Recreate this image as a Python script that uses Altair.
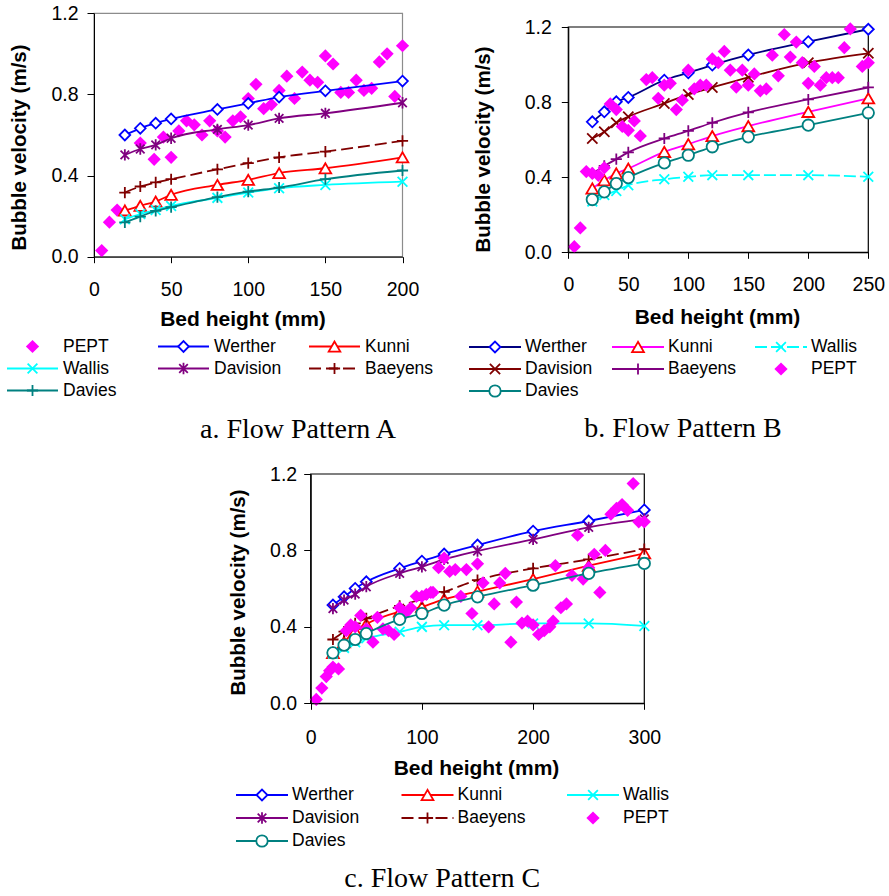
import altair as alt
import pandas as pd

SANS = "Liberation Sans"
SERIF = "Liberation Serif"

# ---------------- Panel A : Flow Pattern A ----------------
A_MODEL_X = [20, 30, 40, 50, 80, 100, 120, 150, 200]
A_WERTHER = [0.600, 0.633, 0.658, 0.679, 0.726, 0.756, 0.787, 0.818, 0.866]
A_KUNNI = [0.228, 0.251, 0.272, 0.305, 0.354, 0.379, 0.412, 0.436, 0.490]
A_WALLIS = [0.185, 0.210, 0.230, 0.250, 0.290, 0.316, 0.338, 0.354, 0.370]
A_DAVISION = [0.502, 0.531, 0.551, 0.584, 0.628, 0.649, 0.682, 0.707, 0.759]
A_BAEYENS = [0.316, 0.346, 0.366, 0.382, 0.431, 0.461, 0.490, 0.518, 0.571]
A_DAVIES = [0.169, 0.198, 0.226, 0.244, 0.294, 0.321, 0.341, 0.382, 0.425]
A_PEPT_X = [5, 10, 15, 30, 39, 45, 50, 55, 60, 65, 70, 75, 80, 85, 90, 95, 100,
            105, 110, 115, 120, 125, 130, 135, 140, 145, 150, 155, 160, 165,
            170, 175, 180, 185, 190, 195, 200]
A_PEPT_Y = [0.03, 0.17, 0.23, 0.56, 0.48, 0.59, 0.49, 0.62, 0.67, 0.65, 0.60,
            0.67, 0.62, 0.59, 0.67, 0.69, 0.78, 0.85, 0.73, 0.75, 0.82, 0.89,
            0.78, 0.91, 0.87, 0.86, 0.99, 0.95, 0.81, 0.81, 0.87, 0.82, 0.83,
            0.96, 1.00, 0.79, 1.04]

# ---------------- Panel B : Flow Pattern B ----------------
B_MODEL_X = [20, 30, 40, 50, 80, 100, 120, 150, 200, 250]
B_WERTHER = [0.695, 0.748, 0.802, 0.825, 0.917, 0.956, 0.997, 1.051, 1.122, 1.188]
B_KUNNI = [0.340, 0.384, 0.420, 0.446, 0.535, 0.576, 0.619, 0.672, 0.748, 0.820]
B_WALLIS = [0.270, 0.305, 0.327, 0.357, 0.389, 0.402, 0.411, 0.411, 0.411, 0.402]
B_DAVISION = [0.606, 0.642, 0.690, 0.722, 0.793, 0.841, 0.878, 0.932, 1.010, 1.060]
B_BAEYENS = [0.420, 0.460, 0.496, 0.532, 0.606, 0.647, 0.690, 0.745, 0.814, 0.878]
B_DAVIES = [0.281, 0.322, 0.366, 0.398, 0.476, 0.517, 0.562, 0.615, 0.677, 0.743]
B_PEPT_X = [5, 10, 15, 20, 25, 30, 35, 40, 45, 50, 55, 60, 65, 70, 75, 80, 85,
            90, 95, 100, 105, 110, 115, 120, 125, 130, 135, 140, 145, 150, 155,
            160, 165, 170, 175, 180, 185, 190, 195, 200, 205, 210, 215, 220,
            225, 230, 235, 245, 250]
B_PEPT_Y = [0.03, 0.13, 0.43, 0.42, 0.41, 0.45, 0.79, 0.76, 0.67, 0.65, 0.70,
            0.62, 0.92, 0.93, 0.82, 0.89, 0.90, 0.76, 0.81, 0.97, 0.87, 0.89,
            0.89, 1.03, 1.01, 1.07, 0.97, 0.88, 0.97, 0.89, 0.95, 0.86, 0.87,
            1.05, 0.94, 1.16, 1.04, 1.12, 1.01, 0.90, 0.99, 0.89, 0.93, 0.93,
            0.93, 1.09, 1.19, 0.99, 1.01]

# ---------------- Panel C : Flow Pattern C ----------------
C_MODEL_X = [20, 30, 40, 50, 80, 100, 120, 150, 200, 250, 300]
C_WERTHER = [0.514, 0.557, 0.601, 0.636, 0.706, 0.744, 0.781, 0.828, 0.901, 0.954, 1.012]
C_KUNNI = [0.264, 0.320, 0.380, 0.415, 0.480, 0.505, 0.545, 0.585, 0.650, 0.720, 0.785]
C_WALLIS = [0.260, 0.290, 0.320, 0.340, 0.374, 0.400, 0.409, 0.409, 0.418, 0.418, 0.405]
C_DAVISION = [0.496, 0.540, 0.571, 0.610, 0.680, 0.714, 0.753, 0.797, 0.858, 0.921, 0.965]
C_BAEYENS = [0.334, 0.375, 0.418, 0.444, 0.510, 0.545, 0.583, 0.645, 0.706, 0.753, 0.807]
C_DAVIES = [0.264, 0.304, 0.334, 0.365, 0.439, 0.470, 0.514, 0.557, 0.618, 0.680, 0.732]
C_PEPT_X = [5, 10, 14, 17, 20, 25, 32, 36, 40, 45, 50, 56, 60, 65, 70, 75, 80,
            85, 90, 95, 100, 104, 108, 110, 115, 120, 125, 130, 135, 140, 145,
            150, 155, 160, 165, 170, 175, 180, 185, 190, 195, 200, 205, 210,
            215, 218, 220, 225, 230, 235, 240, 245, 250, 255, 260, 265, 270,
            275, 280, 285, 290, 295, 300]
C_PEPT_Y = [0.02, 0.08, 0.14, 0.17, 0.19, 0.18, 0.38, 0.41, 0.40, 0.46, 0.39,
            0.32, 0.45, 0.39, 0.38, 0.36, 0.50, 0.47, 0.50, 0.56, 0.56, 0.57,
            0.58, 0.58, 0.71, 0.76, 0.69, 0.70, 0.56, 0.70, 0.47, 0.73, 0.63,
            0.40, 0.52, 0.63, 0.68, 0.32, 0.53, 0.42, 0.43, 0.41, 0.36, 0.38,
            0.40, 0.43, 0.72, 0.50, 0.52, 0.67, 0.88, 0.65, 0.71, 0.78, 0.58,
            0.80, 0.99, 1.02, 1.04, 1.01, 1.15, 0.95, 0.95]

Y_TICKS = [0.0, 0.4, 0.8, 1.2]
A_X_TICKS = [0, 50, 100, 150, 200]
B_X_TICKS = [0, 50, 100, 150, 200, 250]
C_X_TICKS = [0, 100, 200, 300]

# ---------------- marker shapes / styles ----------------
PLUS = "M-1,0L1,0M0,-1L0,1"
XMARK = "M-1,-1L1,1M-1,1L1,-1"
STAR = "M-0.8,-0.8L0.8,0.8M-0.8,0.8L0.8,-0.8M0,-1.05L0,1.05"

PEPT_STYLE = dict(line=None, mcolor="#FF00FF", shape="diamond", size=175, solid=True)

A_STYLES = {
    "PEPT": PEPT_STYLE,
    "Werther": dict(line="#0000FF", mcolor="#0000FF", shape="diamond", size=115),
    "Kunni": dict(line="#FF0000", mcolor="#FF0000", shape="triangle-up", size=135),
    "Wallis": dict(line="#00FFFF", mcolor="#00FFFF", shape=XMARK, size=95),
    "Davision": dict(line="#800080", mcolor="#800080", shape=STAR, size=115),
    "Baeyens": dict(line="#800000", mcolor="#800000", shape=PLUS, size=125, dash=[12, 5]),
    "Davies": dict(line="#008080", mcolor="#008080", shape=PLUS, size=125),
}
B_STYLES = {
    "Werther": dict(line="#000080", mcolor="#0000FF", shape="diamond", size=120),
    "Kunni": dict(line="#FF00FF", mcolor="#FF0000", shape="triangle-up", size=140),
    "Wallis": dict(line="#00FFFF", mcolor="#00FFFF", shape=XMARK, size=95, dash=[12, 4]),
    "Davision": dict(line="#800000", mcolor="#800000", shape=XMARK, size=105),
    "Baeyens": dict(line="#800080", mcolor="#800080", shape=PLUS, size=125),
    "PEPT": PEPT_STYLE,
    "Davies": dict(line="#008080", mcolor="#008080", shape="circle", size=130),
}
C_STYLES = {
    "Werther": dict(line="#0000FF", mcolor="#0000FF", shape="diamond", size=120),
    "Kunni": dict(line="#FF0000", mcolor="#FF0000", shape="triangle-up", size=140),
    "Wallis": dict(line="#00FFFF", mcolor="#00FFFF", shape=XMARK, size=95),
    "Davision": dict(line="#800080", mcolor="#800080", shape=STAR, size=115),
    "Baeyens": dict(line="#800000", mcolor="#800000", shape=PLUS, size=125, dash=[12, 5]),
    "PEPT": PEPT_STYLE,
    "Davies": dict(line="#008080", mcolor="#008080", shape="circle", size=130),
}

A_SERIES = {
    "PEPT": (A_PEPT_X, A_PEPT_Y), "Werther": (A_MODEL_X, A_WERTHER),
    "Kunni": (A_MODEL_X, A_KUNNI), "Wallis": (A_MODEL_X, A_WALLIS),
    "Davision": (A_MODEL_X, A_DAVISION), "Baeyens": (A_MODEL_X, A_BAEYENS),
    "Davies": (A_MODEL_X, A_DAVIES),
}
B_SERIES = {
    "Werther": (B_MODEL_X, B_WERTHER), "Kunni": (B_MODEL_X, B_KUNNI),
    "Wallis": (B_MODEL_X, B_WALLIS), "Davision": (B_MODEL_X, B_DAVISION),
    "Baeyens": (B_MODEL_X, B_BAEYENS), "PEPT": (B_PEPT_X, B_PEPT_Y),
    "Davies": (B_MODEL_X, B_DAVIES),
}
C_SERIES = {
    "Werther": (C_MODEL_X, C_WERTHER), "Kunni": (C_MODEL_X, C_KUNNI),
    "Wallis": (C_MODEL_X, C_WALLIS), "Davision": (C_MODEL_X, C_DAVISION),
    "Baeyens": (C_MODEL_X, C_BAEYENS), "PEPT": (C_PEPT_X, C_PEPT_Y),
    "Davies": (C_MODEL_X, C_DAVIES),
}


def point_props(st):
    if st.get("solid"):
        return dict(shape=st["shape"], filled=True, color=st["mcolor"],
                    size=st["size"], opacity=1)
    if st["shape"] in ("diamond", "triangle-up", "circle"):
        return dict(shape=st["shape"], filled=True, fill="white",
                    stroke=st["mcolor"], strokeWidth=1.8, size=st["size"],
                    opacity=1, fillOpacity=1)
    return dict(shape=st["shape"], filled=False, color=st["mcolor"],
                stroke=st["mcolor"], strokeWidth=1.8, size=st["size"], opacity=1)


def panel(series, styles, xdom, xticks, xrange, yrange, frame_color, ax):
    xs = alt.Scale(domain=xdom, range=xrange, nice=False, zero=False)
    ys = alt.Scale(domain=[0, 1.2], range=yrange, nice=False, zero=False)
    xaxis = alt.Axis(
        orient="bottom", offset=ax["x_off"], values=xticks, format="d", grid=False,
        labelFont=SANS, labelFontSize=19.5, labelColor="black",
        labelPadding=ax["x_pad"], labelFlush=False, labelOverlap=False,
        tickSize=6, tickColor="black", tickWidth=1, domainColor="black",
        domainWidth=1, title="Bed height (mm)", titleFont=SANS,
        titleFontSize=21, titleFontWeight="bold", titleColor="black",
        titleX=ax["xt_x"], titleY=ax["xt_y"], titleAlign="center",
        titleBaseline="alphabetic", zindex=1)
    yaxis = alt.Axis(
        orient="left", offset=ax["y_off"], values=Y_TICKS, format=".1f", grid=False,
        labelFont=SANS, labelFontSize=19.5, labelColor="black",
        labelPadding=ax["y_pad"], labelFlush=False, labelOverlap=False,
        tickSize=7, tickColor="black", tickWidth=1, domainColor="black",
        domainWidth=1, title="Bubble velocity (m/s)", titleFont=SANS,
        titleFontSize=20.5, titleFontWeight="bold", titleColor="black",
        titleAngle=270, titleX=ax["yt_x"], titleY=ax["yt_y"],
        titleAlign="center", titleBaseline="alphabetic", zindex=1)
    X = alt.X("x:Q", scale=xs, axis=xaxis)
    Y = alt.Y("y:Q", scale=ys, axis=yaxis)

    frame_df = pd.DataFrame({"x": [xdom[0]], "x2": [xdom[1]], "y": [0.0], "y2": [1.2]})
    layers = [alt.Chart(frame_df).mark_rect(fillOpacity=0, stroke=frame_color,
                                            strokeWidth=1.2)
              .encode(x=X, x2="x2:Q", y=Y, y2="y2:Q")]
    for name, (xv, yv) in series.items():
        st = styles[name]
        df = pd.DataFrame({"x": xv, "y": yv})
        if st["line"]:
            lp = dict(color=st["line"], strokeWidth=1.8, interpolate="monotone")
            if st.get("dash"):
                lp["strokeDash"] = st["dash"]
            layers.append(alt.Chart(df).mark_line(**lp).encode(x=X, y=Y))
        layers.append(alt.Chart(df).mark_point(**point_props(st)).encode(x=X, y=Y))
    return alt.layer(*layers)


def legend(order, styles, xrange, yrange, seg, caption, cap_x, cap_base):
    xs = alt.Scale(domain=[0, 2], range=xrange, nice=False, zero=False)
    ys = alt.Scale(domain=[0, 2], range=yrange, nice=False, zero=False)
    cap_axis = alt.Axis(orient="bottom", offset=-896, domain=False, ticks=False,
                        labels=False, grid=False, title=caption, titleFont=SERIF,
                        titleFontSize=28, titleFontWeight="normal",
                        titleColor="black", titleX=cap_x, titleY=cap_base,
                        titleAlign="center", titleBaseline="alphabetic")
    X = alt.X("col:Q", scale=xs, axis=cap_axis)
    Y = alt.Y("row:Q", scale=ys, axis=None)
    layers = []
    for i, name in enumerate(order):
        st = styles[name]
        df = pd.DataFrame({"col": [i % 3], "row": [i // 3], "name": [name]})
        if st["line"]:
            rp = dict(color=st["line"], strokeWidth=2, x2Offset=seg)
            if st.get("dash"):
                rp["strokeDash"] = st["dash"]
            layers.append(alt.Chart(df).mark_rule(**rp)
                          .encode(x=X, x2=alt.X2("col:Q"), y=Y))
        pp = point_props(st)
        pp["xOffset"] = seg / 2
        layers.append(alt.Chart(df).mark_point(**pp).encode(x=X, y=Y))
        layers.append(alt.Chart(df).mark_text(align="left", baseline="middle",
                                              dx=56, font=SANS, fontSize=17.5,
                                              color="black")
                      .encode(x=X, y=Y, text="name:N"))
    return alt.layer(*layers)


pA = panel(A_SERIES, A_STYLES, [0, 200], A_X_TICKS, [94, 402.5], [256.7, 13.3],
           "#8C8C8C",
           dict(x_off=256.7 - 896, x_pad=17.5, xt_x=242.5, xt_y=69,
                y_off=-94, y_pad=9, yt_x=-69, yt_y=147))
pB = panel(B_SERIES, B_STYLES, [0, 250], B_X_TICKS, [568.3, 868.3], [252.3, 27],
           "black",
           dict(x_off=252.3 - 896, x_pad=17, xt_x=717, xt_y=71,
                y_off=-568.3, y_pad=10, yt_x=-79, yt_y=149))
pC = panel(C_SERIES, C_STYLES, [0, 300], C_X_TICKS, [310.7, 644.3], [703.3, 474],
           "black",
           dict(x_off=703.3 - 896, x_pad=19, xt_x=476, xt_y=71,
                y_off=-310.7, y_pad=7, yt_x=-66, yt_y=592))

lA = legend(list(A_SERIES.keys()), A_STYLES, [7, 309], [346.5, 390.5], 51,
            "a. Flow Pattern A", 297.5, 437)
lB = legend(list(B_SERIES.keys()), B_STYLES, [469, 755], [347, 391], 52,
            "b. Flow Pattern B", 682.5, 436)
lC = legend(list(C_SERIES.keys()), C_STYLES, [236, 567], [795, 841], 52,
            "c. Flow Pattern C", 441.7, 886)

chart = (
    alt.layer(pA, pB, pC, lA, lB, lC)
    .resolve_scale(x="independent", y="independent")
    .resolve_axis(x="independent", y="independent")
    .properties(width=889, height=896,
                autosize=alt.AutoSizeParams(type="none"),
                padding={"left": 0, "top": 0, "right": 0, "bottom": 0},
                background="white")
    .configure_view(stroke="transparent")
)

chart.save("out.html", embed_options={"renderer": "svg", "actions": False})
